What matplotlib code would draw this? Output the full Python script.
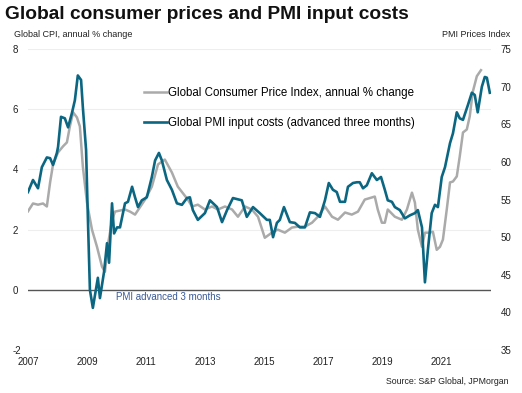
import numpy as np
import matplotlib
matplotlib.use("Agg")
import matplotlib.pyplot as plt

plt.rcParams['font.family'] = ['Liberation Sans', 'DejaVu Sans']
plt.rcParams['axes.unicode_minus'] = False

# Global CPI, annual % change (decimal year, value)
cpi_year = [2007.00, 2007.17, 2007.34, 2007.51, 2007.64, 2007.75, 2007.85, 2008.02, 2008.19,
            2008.32, 2008.42, 2008.53, 2008.66, 2008.76, 2008.86, 2009.00, 2009.17, 2009.34,
            2009.51, 2009.61, 2009.71, 2009.85, 2009.95, 2010.29, 2010.46, 2010.63, 2010.97,
            2011.20, 2011.41, 2011.64, 2011.88, 2012.08, 2012.42, 2012.56, 2012.76, 2013.00,
            2013.24, 2013.44, 2013.68, 2013.92, 2014.12, 2014.36, 2014.59, 2014.80, 2015.03,
            2015.27, 2015.47, 2015.71, 2015.95, 2016.15, 2016.39, 2016.63, 2016.83, 2017.07,
            2017.31, 2017.51, 2017.75, 2017.98, 2018.19, 2018.42, 2018.66, 2018.76, 2018.86,
            2019.00, 2019.10, 2019.20, 2019.44, 2019.68, 2019.85, 2020.02, 2020.12, 2020.22,
            2020.36, 2020.46, 2020.63, 2020.73, 2020.86, 2020.97, 2021.07, 2021.20, 2021.31,
            2021.41, 2021.54, 2021.64, 2021.75, 2021.88, 2021.98, 2022.08, 2022.22, 2022.36]
cpi_val = [2.61, 2.87, 2.83, 2.87, 2.77, 3.57, 4.17, 4.57, 4.77,
           4.90, 5.43, 5.90, 5.73, 5.43, 4.10, 2.90, 2.00, 1.43,
           0.77, 0.60, 1.50, 2.30, 2.60, 2.67, 2.60, 2.50, 3.00,
           3.43, 4.17, 4.33, 3.90, 3.43, 3.00, 2.77, 2.83, 2.67,
           2.77, 2.67, 2.77, 2.67, 2.43, 2.77, 2.67, 2.43, 1.73,
           1.90, 2.00, 1.90, 2.07, 2.10, 2.10, 2.23, 2.43, 2.77,
           2.43, 2.33, 2.57, 2.50, 2.60, 3.00, 3.07, 3.10, 2.67,
           2.23, 2.23, 2.67, 2.43, 2.33, 2.67, 3.23, 2.90, 2.00,
           1.43, 1.90, 1.90, 1.93, 1.33, 1.43, 1.67, 2.67, 3.57,
           3.60, 3.77, 4.43, 5.23, 5.33, 5.77, 6.57, 7.10, 7.30]

# Global PMI input prices index, advanced three months
pmi_year = [2007.00, 2007.17, 2007.34, 2007.47, 2007.64, 2007.75, 2007.85, 2007.98, 2008.02,
            2008.12, 2008.25, 2008.36, 2008.49, 2008.59, 2008.69, 2008.80, 2008.86, 2008.97,
            2009.03, 2009.10, 2009.20, 2009.37, 2009.44, 2009.58, 2009.68, 2009.75, 2009.85,
            2009.92, 2010.02, 2010.12, 2010.29, 2010.39, 2010.53, 2010.63, 2010.73, 2010.86,
            2011.03, 2011.20, 2011.31, 2011.44, 2011.54, 2011.71, 2011.88, 2012.05, 2012.22,
            2012.39, 2012.49, 2012.59, 2012.76, 2013.00, 2013.17, 2013.41, 2013.58, 2013.75,
            2013.95, 2014.25, 2014.42, 2014.63, 2014.86, 2015.10, 2015.20, 2015.31, 2015.44,
            2015.54, 2015.68, 2015.88, 2016.05, 2016.22, 2016.39, 2016.56, 2016.73, 2016.90,
            2017.07, 2017.20, 2017.34, 2017.47, 2017.58, 2017.75, 2017.85, 2017.92, 2018.02,
            2018.15, 2018.25, 2018.36, 2018.49, 2018.66, 2018.83, 2018.97, 2019.10, 2019.20,
            2019.34, 2019.44, 2019.61, 2019.78, 2019.95, 2020.12, 2020.22, 2020.36, 2020.46,
            2020.56, 2020.69, 2020.80, 2020.90, 2021.03, 2021.14, 2021.31, 2021.41, 2021.54,
            2021.64, 2021.75, 2021.92, 2022.05, 2022.15, 2022.25, 2022.39, 2022.49, 2022.56,
            2022.66]
pmi_val = [56.0, 57.6, 56.5, 59.3, 60.6, 60.5, 59.6, 61.2, 62.0,
           66.0, 65.8, 64.6, 66.5, 68.2, 71.5, 70.9, 67.3, 61.6,
           52.7, 43.0, 40.6, 44.6, 41.9, 45.4, 49.2, 46.6, 54.5,
           50.5, 51.3, 51.3, 54.5, 54.7, 56.7, 55.3, 54.0, 54.9,
           55.3, 58.0, 60.2, 61.2, 60.2, 57.6, 56.3, 54.5, 54.3,
           55.2, 55.3, 53.6, 52.3, 53.2, 54.9, 54.0, 52.0, 53.6,
           55.2, 54.9, 52.7, 54.0, 53.2, 52.3, 52.3, 50.0, 51.9,
           52.3, 54.0, 52.0, 51.9, 51.3, 51.3, 53.3, 53.2, 52.7,
           54.9, 57.2, 56.3, 56.0, 54.7, 54.7, 56.7, 56.9, 57.2,
           57.3, 57.3, 56.5, 56.9, 58.5, 57.6, 58.0, 56.3, 54.9,
           54.7, 54.0, 53.6, 52.5, 52.9, 53.2, 53.6, 51.3, 44.0,
           48.3, 53.2, 54.3, 54.0, 58.0, 59.3, 62.5, 63.8, 66.6,
           65.8, 65.6, 67.6, 69.2, 68.9, 66.6, 70.0, 71.3, 71.2,
           69.2]

year_ticks = [2007, 2009, 2011, 2013, 2015, 2017, 2019, 2021]
cpi_ticks = [-2, 0, 2, 4, 6, 8]
pmi_ticks = [35, 40, 45, 50, 55, 60, 65, 70, 75]

gray = '#aaaaaa'
teal = '#0b6682'
txt = '#222222'

fig = plt.figure(figsize=(5.22, 3.93), dpi=100)
ax = fig.add_axes([0.0536, 0.1094, 0.887, 0.7656])
ax2 = ax.twinx()

for y in cpi_ticks:
    if y != 0:
        ax.axhline(y, color='#eeeeee', lw=0.8, zorder=0)
ax.axhline(0, color='#555555', lw=1.0, zorder=1)

l1, = ax.plot(cpi_year, cpi_val, color=gray, lw=1.8, zorder=2)
l2, = ax2.plot(pmi_year, pmi_val, color=teal, lw=1.9, zorder=3)

ax.set_xlim(2007, 2022.7)
ax.set_ylim(-2, 8)
ax2.set_ylim(35, 75)
ax.set_xticks(year_ticks)
ax.set_yticks(cpi_ticks)
ax2.set_yticks(pmi_ticks)

for a in (ax, ax2):
    for s in a.spines.values():
        s.set_visible(False)
    a.tick_params(length=0, labelsize=7, colors=txt)
ax.tick_params(axis='x', pad=5)
ax2.tick_params(axis='y', pad=7)
for lab in ax.get_yticklabels():
    lab.set_horizontalalignment('left')
ax.tick_params(axis='y', pad=11)

ax2.legend([l1, l2],
           ['Global Consumer Price Index, annual % change',
            'Global PMI input costs (advanced three months)'],
           loc='upper left', bbox_to_anchor=(0.24, 0.89), frameon=False,
           fontsize=8.3, handlelength=2.0, handletextpad=0.1, labelspacing=1.6,
           borderaxespad=0)

ax.text(2010.0, -0.25, 'PMI advanced 3 months', fontsize=7, color='#3a5a9a',
        va='center', ha='left')

fig.text(0.01, 0.962, 'Global consumer prices and PMI input costs', fontsize=13.8,
         fontweight='bold', va='center', ha='left', color='#111111')
fig.text(0.027, 0.912, 'Global CPI, annual % change', fontsize=6.5, color=txt,
         va='center', ha='left')
fig.text(0.977, 0.912, 'PMI Prices Index', fontsize=6.5, color=txt,
         va='center', ha='right')
fig.text(0.975, 0.028, 'Source: S&P Global, JPMorgan', fontsize=6.3, color=txt,
         va='center', ha='right')

fig.savefig('out.png', dpi=100)
